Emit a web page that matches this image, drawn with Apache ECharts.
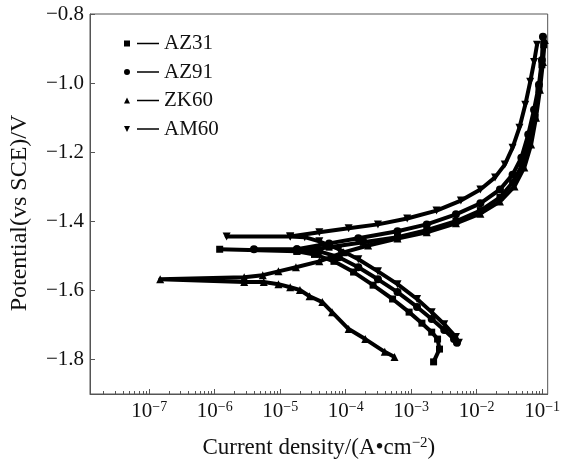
<!DOCTYPE html>
<html>
<head>
<meta charset="utf-8">
<script src="https://cdn.jsdelivr.net/npm/echarts@6/dist/echarts.min.js"></script>
<style>
  html, body { margin: 0; padding: 0; background: #fff; }
  #main { width: 563px; height: 464px; }
</style>
</head>
<body>
<div id="main"></div>
<script>
// current density (A/cm2) and potential (V vs SCE)
// each curve: cathodic branch (bottom up) -> Ecorr spike -> anodic branch
var az31Current = [2.2e-3, 2.71e-3, 2.53e-3, 2.06e-3, 1.46e-3, 9.3e-4, 5.2e-4, 2.62e-4, 1.32e-4, 6.62e-5, 3.34e-5, 1.8e-5,
    1.19e-6,
    1.8e-5, 5.58e-5, 1.86e-4, 6.18e-4, 1.73e-3, 4.83e-3, 1.14e-2, 2.27e-2, 3.54e-2, 4.99e-2, 6.35e-2, 7.8e-2, 8.95e-2, 9.93e-2, 1.06e-1];
var az31Potential = [-1.807, -1.770, -1.741, -1.721, -1.695, -1.663, -1.625, -1.585, -1.547, -1.516, -1.496, -1.487,
    -1.481,
    -1.487, -1.475, -1.461, -1.446, -1.426, -1.400, -1.369, -1.331, -1.288, -1.236, -1.172, -1.100, -1.019, -0.947, -0.889];

var az91Current = [5.0e-3, 4.51e-3, 3.2e-3, 2.06e-3, 1.23e-3, 6.18e-4, 3.11e-4, 1.56e-4, 7.87e-5, 3.96e-5, 1.8e-5,
    3.97e-6,
    1.8e-5, 5.58e-5, 1.56e-4, 6.18e-4, 1.73e-3, 4.83e-3, 1.14e-2, 2.27e-2, 3.54e-2, 4.82e-2, 6.14e-2, 7.53e-2, 8.95e-2, 9.93e-2, 1.03e-1];
var az91Potential = [-1.752, -1.741, -1.715, -1.683, -1.648, -1.605, -1.568, -1.533, -1.504, -1.487, -1.481,
    -1.481,
    -1.481, -1.464, -1.449, -1.429, -1.409, -1.380, -1.348, -1.308, -1.265, -1.216, -1.149, -1.077, -1.005, -0.933, -0.866];

var zk60Current = [5.57e-4, 3.95e-4, 1.99e-4, 1.11e-4, 6.19e-5, 4.4e-5, 2.81e-5, 2.0e-5, 1.42e-5, 9.4e-6, 5.6e-6, 2.82e-6,
    1.47e-7,
    2.82e-6, 5.41e-6, 9.4e-6, 1.74e-5, 3.96e-5, 9.3e-5, 2.2e-4, 6.18e-4, 1.73e-3, 4.83e-3, 1.14e-2, 2.27e-2, 3.79e-2, 5.35e-2, 6.79e-2, 8.07e-2, 9.27e-2, 1.03e-1, 1.10e-1];
var zk60Potential = [-1.793, -1.778, -1.741, -1.712, -1.663, -1.634, -1.617, -1.599, -1.591, -1.582, -1.576, -1.576,
    -1.568,
    -1.562, -1.556, -1.545, -1.533, -1.516, -1.490, -1.470, -1.450, -1.432, -1.406, -1.378, -1.343, -1.299, -1.244, -1.178, -1.100, -1.019, -0.939, -0.875];

var am60Current = [5.36e-3, 4.83e-3, 3.2e-3, 2.06e-3, 1.23e-3, 6.18e-4, 3.11e-4, 1.56e-4, 7.87e-5, 3.96e-5, 2.37e-5, 1.42e-5,
    1.52e-6,
    1.42e-5, 3.96e-5, 1.11e-4, 3.11e-4, 8.7e-4, 2.44e-3, 5.74e-3, 1.14e-2, 1.91e-2, 2.69e-2, 3.54e-2, 4.5e-2, 5.53e-2, 6.58e-2, 7.53e-2, 8.36e-2];
var am60Potential = [-1.752, -1.735, -1.698, -1.663, -1.625, -1.582, -1.545, -1.510, -1.481, -1.458, -1.446, -1.444,
    -1.444,
    -1.444, -1.432, -1.420, -1.409, -1.392, -1.369, -1.340, -1.308, -1.273, -1.236, -1.187, -1.129, -1.063, -0.996, -0.939, -0.889];

var xExponents = [-7, -6, -5, -4, -3, -2, -1];
var yTicks = [-1.8, -1.6, -1.4, -1.2, -1.0, -0.8];
var xLogMin = -7.905, xLogMax = -0.915;

function pairs(cur, pot) {
    return cur.map(function (c, i) { return [Math.log10(c), pot[i]]; });
}

// minor ticks of the log axis (2..9 in each decade)
var minorTicks = [];
for (var n = -8; n <= -1; n++) {
    for (var k = 2; k <= 9; k++) {
        var v = n + Math.log10(k);
        if (v > xLogMin && v < xLogMax) minorTicks.push(v);
    }
}

var serif = '"Liberation Serif", "DejaVu Serif", serif';
var axisColor = '#555';

var myChart = echarts.init(document.getElementById('main'), null, { renderer: 'canvas' });

function sym(path) {
    return 'path://' + path + ' M13,2.3 h22 v1.4 h-22 Z';
}

var option = {
    animation: false,
    backgroundColor: '#fff',
    grid: {
        left: 85, right: 9, top: 14, bottom: 67,
        show: true, borderColor: axisColor, borderWidth: 1, backgroundColor: 'transparent'
    },
    legend: {
        orient: 'vertical',
        left: 124, top: 33,
        padding: 0,
        itemGap: 7.5,
        itemWidth: 35, itemHeight: 6,
        itemStyle: { borderWidth: 0 },
        textStyle: { fontFamily: serif, fontSize: 21, color: '#111', lineHeight: 21 },
        data: [
            { name: 'AZ31', icon: sym('M0,0 h6 v6 h-6 Z') },
            { name: 'AZ91', icon: sym('M0,3 A3,3 0 1,1 6,3 A3,3 0 1,1 0,3 Z') },
            { name: 'ZK60', icon: sym('M3,0 L6,6 L0,6 Z') },
            { name: 'AM60', icon: sym('M0,0 L6,0 L3,6 Z') }
        ]
    },
    xAxis: [
        {
            type: 'value',
            min: xLogMin, max: xLogMax,
            name: 'Current density/(A•cm{s|−2})',
            nameLocation: 'middle',
            nameGap: 42,
            nameTextStyle: {
                fontFamily: serif, fontSize: 23, color: '#111',
                rich: { s: { fontFamily: serif, fontSize: 15, color: '#111', verticalAlign: 'top', lineHeight: 14 } }
            },
            axisLine: { lineStyle: { color: axisColor } },
            axisTick: { inside: true, length: 5, customValues: xExponents, lineStyle: { color: axisColor } },
            splitLine: { show: false },
            axisLabel: {
                customValues: xExponents,
                margin: 6,
                formatter: function (v) { return '{b|10}{s|−' + Math.abs(v) + '}'; },
                rich: {
                    b: { fontFamily: serif, fontSize: 21, color: '#111', lineHeight: 22 },
                    s: { fontFamily: serif, fontSize: 14, color: '#111', verticalAlign: 'top', lineHeight: 14 }
                }
            }
        },
        {
            type: 'value',
            min: xLogMin, max: xLogMax,
            position: 'bottom',
            axisLine: { show: false },
            axisTick: { inside: true, length: 3, customValues: minorTicks, lineStyle: { color: axisColor } },
            axisLabel: { show: false },
            splitLine: { show: false }
        }
    ],
    yAxis: {
        type: 'value',
        min: -1.9, max: -0.8,
        name: 'Potential(vs SCE)/V',
        nameLocation: 'middle',
        nameGap: 58,
        nameTextStyle: { fontFamily: serif, fontSize: 24, color: '#111', padding: [0, 18, 0, 0] },
        axisLine: { show: true, lineStyle: { color: axisColor } },
        axisTick: { show: true, inside: true, length: 5, customValues: yTicks, lineStyle: { color: axisColor } },
        splitLine: { show: false },
        axisLabel: {
            customValues: yTicks,
            margin: 6,
            fontFamily: serif, fontSize: 21, color: '#111',
            formatter: function (v) { return v.toFixed(1).replace('-', '−'); }
        }
    },
    series: [
        { name: 'AZ31', symbol: 'rect', symbolSize: 7, data: pairs(az31Current, az31Potential) },
        { name: 'AZ91', symbol: 'circle', symbolSize: 8, data: pairs(az91Current, az91Potential) },
        { name: 'ZK60', symbol: 'triangle', symbolSize: 8, data: pairs(zk60Current, zk60Potential) },
        { name: 'AM60', symbol: 'triangle', symbolRotate: 180, symbolSize: 8, data: pairs(am60Current, am60Potential) }
    ].map(function (s) {
        s.type = 'line';
        s.xAxisIndex = 0;
        s.color = '#000';
        s.lineStyle = { width: 4, color: '#000', join: 'round' };
        s.itemStyle = { color: '#000' };
        s.showAllSymbol = true;
        return s;
    })
};

myChart.setOption(option);
window.addEventListener('resize', myChart.resize);
</script>
</body>
</html>
